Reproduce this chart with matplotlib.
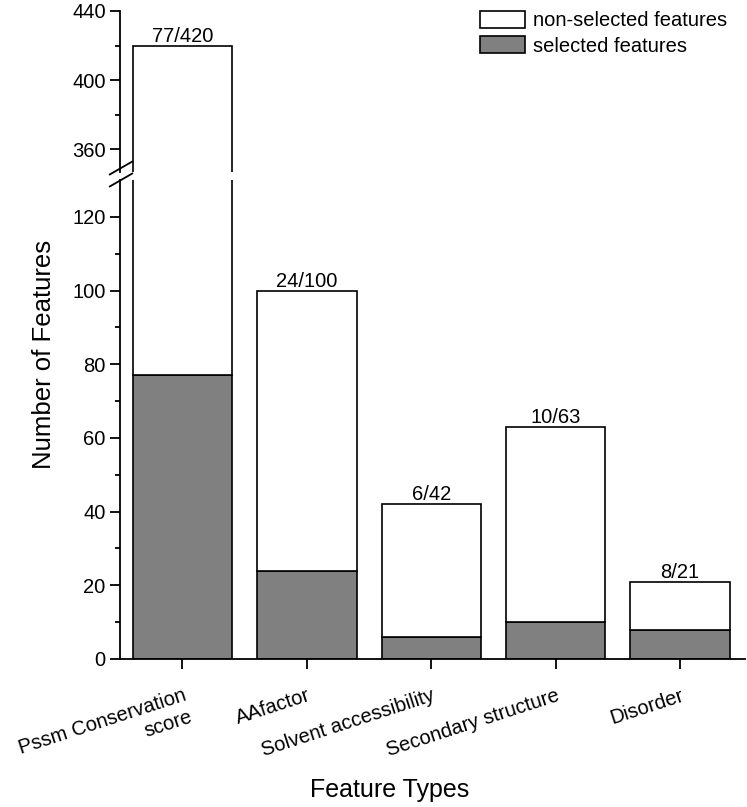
import matplotlib.pyplot as plt
import numpy as np
from matplotlib.patches import Patch

plt.rcParams['font.family'] = ['Liberation Sans', 'DejaVu Sans']

categories = ["Pssm Conservation\nscore", "AAfactor", "Solvent accessibility",
              "Secondary structure", "Disorder"]
selected = [77, 24, 6, 10, 8]
total = [420, 100, 42, 63, 21]

sel = np.array(selected)
tot = np.array(total)
nonsel = tot - sel
x = np.arange(len(categories))

fs = 14.5
fig = plt.figure(figsize=(7.47, 8.07), dpi=100)
ax_top = fig.add_axes([0.161, 0.7869, 0.836, 0.1995])
ax_bot = fig.add_axes([0.161, 0.1834, 0.836, 0.5936])

gray = '#808080'
for ax in (ax_top, ax_bot):
    ax.bar(x, sel, width=0.8, color=gray, edgecolor='black', linewidth=1.2)
    ax.bar(x, nonsel, bottom=sel, width=0.8, color='white', edgecolor='black', linewidth=1.2)
    ax.set_xlim(-0.5, 4.52)
    ax.spines['top'].set_visible(False)
    ax.spines['right'].set_visible(False)
    ax.spines['left'].set_linewidth(1.3)
    ax.tick_params(axis='y', which='major', direction='out', length=7, width=1.3, labelsize=fs)
    ax.tick_params(axis='y', which='minor', direction='out', length=3.5, width=1.3)

ax_top.set_ylim(347, 440)
ax_top.set_yticks([360, 400, 440])
ax_top.set_yticks([380, 420], minor=True)
ax_top.spines['bottom'].set_visible(False)
ax_top.set_xticks([])

ax_bot.set_ylim(0, 130)
ax_bot.set_yticks(np.arange(0, 121, 20))
ax_bot.set_yticks(np.arange(10, 120, 20), minor=True)
ax_bot.spines['bottom'].set_linewidth(1.3)
ax_bot.set_xticks(x)
ax_bot.set_xticklabels(categories, rotation=18, ha='right', rotation_mode='anchor',
                       fontsize=fs, multialignment='right')
ax_bot.tick_params(axis='x', direction='out', length=7.5, width=1.3, pad=12)

fig.text(0.522, 1 - 797 / 807, "Feature Types", fontsize=18, ha='center', va='baseline')
fig.text(0.059, 0.561, "Number of Features", fontsize=18.5, rotation=90,
         ha='center', va='center')

# ratio labels on top of each bar
for i in range(len(categories)):
    ax = ax_top if tot[i] > 130 else ax_bot
    ax.text(x[i], tot[i], f"{sel[i]}/{tot[i]}", ha='center', va='bottom',
            fontsize=fs, clip_on=False)

# axis break marks
for yb in (1 - 168 / 807, 1 - 180 / 807):
    fig.add_artist(plt.Line2D([0.147, 0.177], [yb - 0.008, yb + 0.008],
                              color='black', linewidth=1.3))

handles = [Patch(facecolor='white', edgecolor='black', linewidth=1.2, label='non-selected features'),
           Patch(facecolor=gray, edgecolor='black', linewidth=1.2, label='selected features')]
fig.legend(handles=handles, loc='upper right', frameon=False, fontsize=fs,
           handlelength=2.25, handleheight=0.9, handletextpad=0.4,
           borderaxespad=0, borderpad=0, labelspacing=0.3,
           bbox_to_anchor=(727 / 747, 1 - 11 / 807), bbox_transform=fig.transFigure)

fig.savefig('out.png', dpi=100)
